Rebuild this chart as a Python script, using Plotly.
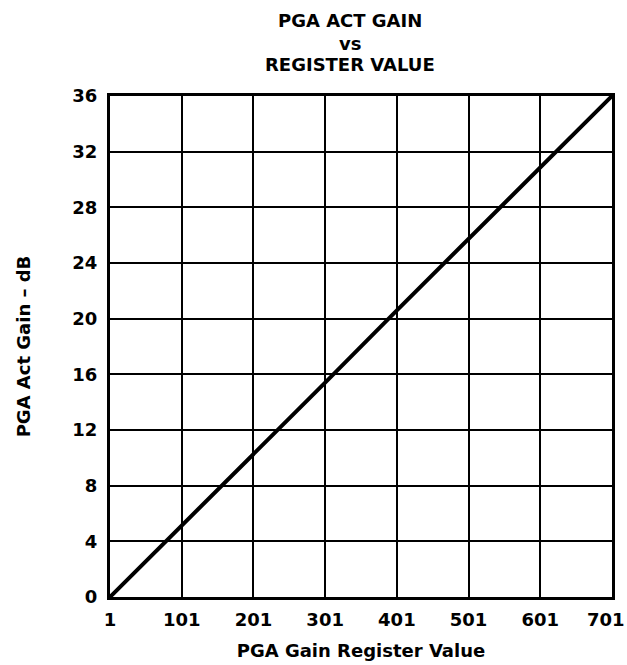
import plotly.graph_objects as go

# Data
register_values = [1, 101, 201, 301, 401, 501, 601, 701]
act_gain_db = [0, 5.1, 10.3, 15.4, 20.6, 25.7, 30.9, 36]

x_ticks = [1, 101, 201, 301, 401, 501, 601, 701]
y_ticks = [0, 4, 8, 12, 16, 20, 24, 28, 32, 36]
title_lines = ["PGA ACT GAIN", "vs", "REGISTER VALUE"]

FONT = "DejaVu Sans"

fig = go.Figure()
fig.add_trace(go.Scatter(
    x=register_values, y=act_gain_db, mode="lines",
    line=dict(color="black", width=4), showlegend=False,
))

L, R, T, B = 110, 15, 96, 68
W, H = 627, 665
plot_w = W - L - R
plot_h = H - T - B

def paper_y(py):
    return (H - B - py) / plot_h

def paper_x(px):
    return (px - L) / plot_w

title_y_px = [20, 43.5, 65]
for txt, py in zip(title_lines, title_y_px):
    fig.add_annotation(
        text=f"<b>{txt}</b>", xref="paper", yref="paper",
        x=paper_x(350), y=paper_y(py), xanchor="center", yanchor="middle",
        showarrow=False, font=dict(family=FONT, size=18, color="black"),
    )

# last x tick label sits flush with the right edge (nudged left as in the original)
x_ticktext = [f"<b>{v}</b>" for v in x_ticks]
x_ticktext[-1] = ""
fig.add_annotation(
    text=f"<b>{x_ticks[-1]}</b>", xref="x", yref="paper",
    x=x_ticks[-1], y=0, xanchor="right", yanchor="middle",
    xshift=15, yshift=-22, showarrow=False,
    font=dict(family=FONT, size=18, color="black"),
)

fig.update_layout(
    width=W, height=H,
    margin=dict(l=L, r=R, t=T, b=B, pad=0),
    paper_bgcolor="white", plot_bgcolor="white",
    font=dict(family=FONT, color="black"),
    xaxis=dict(
        range=[1, 701], tickmode="array", tickvals=x_ticks,
        ticktext=x_ticktext,
        tickfont=dict(family=FONT, size=18, color="black"),
        showgrid=True, gridcolor="black", gridwidth=1.5,
        showline=True, linecolor="black", linewidth=3, mirror=True,
        ticks="", zeroline=False, ticklabelstandoff=4,
        ticklabeloverflow="allow", automargin=False,
        title=dict(text="<b>PGA Gain Register Value</b>",
                   font=dict(family=FONT, size=18, color="black"), standoff=16),
    ),
    yaxis=dict(
        range=[0, 36], tickmode="array", tickvals=y_ticks,
        ticktext=[f"<b>{v}</b>" for v in y_ticks],
        tickfont=dict(family=FONT, size=18, color="black"),
        showgrid=True, gridcolor="black", gridwidth=1.5,
        showline=True, linecolor="black", linewidth=3, mirror=True,
        ticks="", zeroline=False, ticklabelstandoff=6,
        ticklabeloverflow="allow", automargin=False,
        title=dict(text="<b>PGA Act Gain – dB</b>",
                   font=dict(family=FONT, size=18, color="black"), standoff=38),
    ),
)

fig.write_html("out.html", config={"displayModeBar": False},
               post_script="document.body.style.margin='0';")
